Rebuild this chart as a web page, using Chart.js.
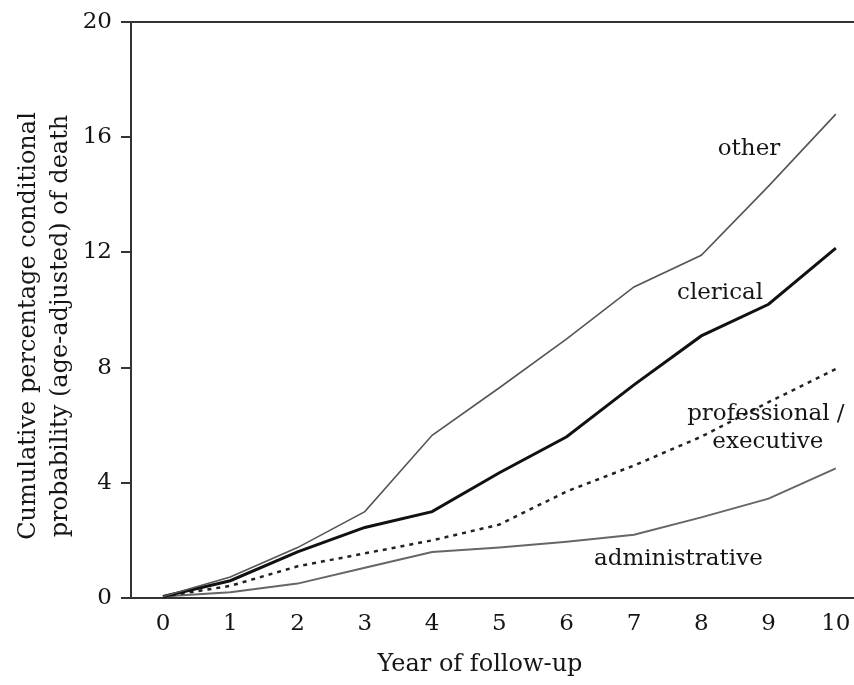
<!DOCTYPE html>
<html>
<head>
<meta charset="utf-8">
<script src="https://cdn.jsdelivr.net/npm/chart.js@4.4.0/dist/chart.umd.min.js"></script>
<style>
  html, body { margin: 0; padding: 0; background: #fff; }
  #wrap { width: 854px; height: 685px; }
</style>
</head>
<body>
<div id="wrap"><canvas id="chart" width="854" height="685"></canvas></div>
<script>
// years of follow-up and cumulative %
const years = [0, 1, 2, 3, 4, 5, 6, 7, 8, 9, 10];
const other = [0.05, 0.73, 1.75, 3.0, 5.65, 7.3, 9.0, 10.8, 11.9, 14.3, 16.8];
const clerical = [0.05, 0.6, 1.6, 2.45, 3.0, 4.35, 5.6, 7.4, 9.1, 10.2, 12.15];
const professional = [0.05, 0.42, 1.1, 1.55, 2.0, 2.55, 3.7, 4.6, 5.6, 6.8, 7.95];
const administrative = [0.05, 0.2, 0.5, 1.05, 1.6, 1.75, 1.95, 2.2, 2.8, 3.45, 4.5];
const yTicks = [0, 4, 8, 12, 16, 20];

const textColor = '#151515';
const labelFont = '23px "DejaVu Serif"';
const titleFont = '24px "DejaVu Serif"';
const xTitle = 'Year of follow-up';
const yTitle = ['Cumulative percentage conditional', 'probability (age-adjusted) of death'];

const toPoints = arr => years.map((x, i) => ({ x: x, y: arr[i] }));

// curve labels placed in data space
const curveLabels = [
    { text: 'other', x: 8.71, y: 15.6 },
    { text: 'clerical', x: 8.28, y: 10.6 },
    { text: 'professional /', x: 8.96, y: 6.4 },
    { text: 'executive', x: 8.99, y: 5.42 },
    { text: 'administrative', x: 7.66, y: 1.35 }
];

const textPlugin = {
    id: 'textLayer',
    afterDatasetsDraw(chart) {
        const ctx = chart.ctx;
        const xs = chart.scales.x, ys = chart.scales.y;
        ctx.save();
        ctx.fillStyle = textColor;
        ctx.textAlign = 'center';
        ctx.textBaseline = 'middle';
        ctx.font = labelFont;
        curveLabels.forEach(l => {
            ctx.fillText(l.text, xs.getPixelForValue(l.x), ys.getPixelForValue(l.y));
        });
        // axis titles
        ctx.font = titleFont;
        ctx.fillText(xTitle, 480, 665);
        ctx.translate(0, 326);
        ctx.rotate(-Math.PI / 2);
        ctx.fillText(yTitle[0], 0, 29);
        ctx.fillText(yTitle[1], 0, 61);
        ctx.restore();
    }
};

new Chart(document.getElementById('chart').getContext('2d'), {
    type: 'line',
    data: {
        datasets: [
            { label: 'other', data: toPoints(other), borderColor: '#555', borderWidth: 1.6 },
            { label: 'clerical', data: toPoints(clerical), borderColor: '#111', borderWidth: 3 },
            { label: 'professional/executive', data: toPoints(professional), borderColor: '#222',
              borderWidth: 2.5, borderDash: [4, 5] },
            { label: 'administrative', data: toPoints(administrative), borderColor: '#666', borderWidth: 2 }
        ]
    },
    options: {
        responsive: false,
        animation: false,
        layout: { padding: { left: 0, right: 0, top: 22, bottom: 0 } },
        elements: { point: { radius: 0 }, line: { tension: 0 } },
        plugins: { legend: { display: false }, tooltip: { enabled: false } },
        scales: {
            x: {
                type: 'linear',
                min: -0.475,
                max: 10.27,
                afterBuildTicks: s => { s.ticks = years.map(v => ({ value: v })); },
                afterFit: s => { s.height = 87; s.paddingLeft = 0; s.paddingRight = 0; },
                border: { display: true, color: '#333', width: 2 },
                grid: { display: false, drawTicks: false },
                ticks: { color: textColor, font: { family: 'DejaVu Serif', size: 23 }, padding: 12, maxRotation: 0 }
            },
            y: {
                min: 0,
                max: 20,
                afterBuildTicks: s => { s.ticks = yTicks.map(v => ({ value: v })); },
                afterFit: s => { s.width = 131; s.paddingTop = 0; s.paddingBottom = 0; },
                border: { display: true, color: '#333', width: 2 },
                grid: {
                    drawTicks: true,
                    tickLength: 10,
                    tickColor: '#333',
                    lineWidth: 2,
                    color: c => (c.tick && c.tick.value === 20) ? '#333' : 'rgba(0,0,0,0)'
                },
                ticks: { color: textColor, font: { family: 'DejaVu Serif', size: 23 }, padding: 9 }
            }
        }
    },
    plugins: [textPlugin]
});
</script>
</body>
</html>
